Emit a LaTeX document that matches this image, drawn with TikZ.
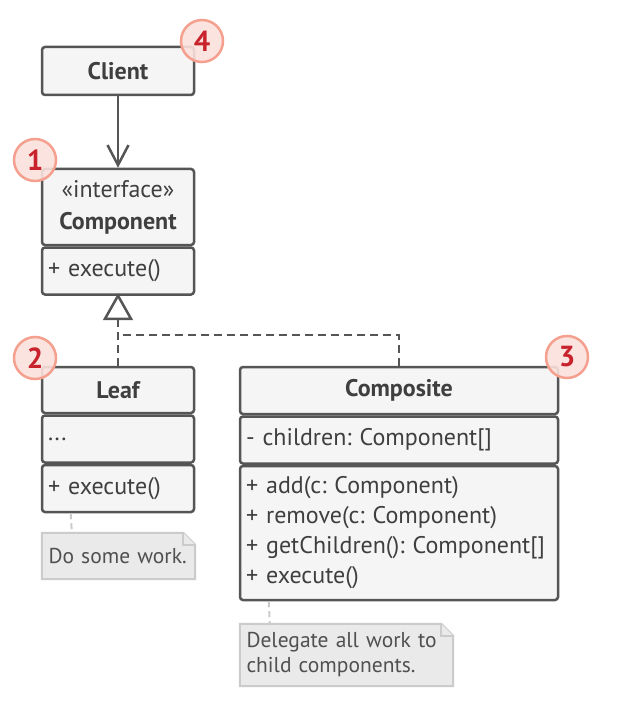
\documentclass[tikz,border=0pt]{standalone}
\usepackage{fontspec}
\setmainfont{PT Sans}
\frenchspacing
\usetikzlibrary{positioning,arrows.meta}
\pgfdeclarelayer{background}
\pgfsetlayers{background,main}
\definecolor{linegray}{HTML}{555555}
\definecolor{boxfill}{HTML}{F5F5F5}
\definecolor{textgray}{HTML}{3F3F3F}
\definecolor{notefill}{HTML}{EAEAEA}
\definecolor{noteline}{HTML}{CBCBCB}
\definecolor{notetext}{HTML}{505050}
\definecolor{badgefill}{HTML}{FBE1DC}
\definecolor{badgeline}{HTML}{F5A08F}
\definecolor{badgetext}{HTML}{C8232C}

\tikzset{
  part/.style={draw=linegray, line width=2.5pt, fill=boxfill, rounded corners=3pt,
    inner sep=0pt, text=textgray, font=\fontsize{24}{30}\selectfont},
  title/.style={part, font=\fontsize{24}{32}\selectfont\bfseries, align=center},
  list/.style={part, align=left, inner xsep=6pt},
  note/.style={inner sep=0pt, inner xsep=6.5pt, align=left, text=notetext,
    font=\fontsize{21.5}{25}\selectfont},
  notebox/.style={draw=noteline, line width=2pt, fill=notefill},
  notelink/.style={draw=noteline, line width=2pt, dash pattern=on 6pt off 4pt},
  badge/.style={circle, minimum size=42pt, inner sep=0pt, draw=badgeline, line width=2.5pt,
    fill=badgefill, fill opacity=0.9, text opacity=1, text=badgetext,
    font=\fontsize{29}{29}\selectfont\bfseries},
  uses/.style={draw=linegray, line width=2.5pt, -{Straight Barb[length=20pt,width=21pt,line width=2.5pt]}},
  realize/.style={draw=linegray, line width=2.5pt, dash pattern=on 8pt off 5pt}
}

\begin{document}
\begin{tikzpicture}[x=1pt, y=-1pt]
\useasboundingbox (0,0) rectangle (625,714);

\node[title, minimum width=152pt, minimum height=48pt] (client) at (118,71) {Client};

\node[title, minimum width=152pt, minimum height=76pt] (comphead) at (118,207)
  {\mdseries«interface»\\Component};
\node[list, text width=140pt, minimum height=47pt, below=0pt of comphead] (compops) {+ execute()};

\node[title, minimum width=152pt, minimum height=46pt] (leafhead) at (118,390) {Leaf};
\node[list, text width=140pt, minimum height=47pt, below=0pt of leafhead] (leaffields) {...};
\node[list, text width=140pt, minimum height=47pt, below=0pt of leaffields] (leafops) {+ execute()};

\node[title, minimum width=318pt, minimum height=47pt] (comphd) at (399,390.5) {Composite};
\node[list, text width=306pt, minimum height=47pt, below=0pt of comphd] (compfields) {- children: Component[]};
\node[list, text width=306pt, minimum height=134pt, below=0pt of compfields] (compmeths)
  {+ add(c: Component)\\+ remove(c: Component)\\+ getChildren(): Component[]\\+ execute()};

% notes
\node[note, text width=140pt, minimum height=46pt] (note1) at (118.5,556) {Do some work.};
\node[note, text width=200pt, minimum height=62pt] (note2) at (346.5,655)
  {Delegate all work to\\child components.};
\begin{pgfonlayer}{background}
\foreach \n in {note1,note2}{
  \draw[notebox] (\n.north west) -- ([xshift=-12pt]\n.north east) -- ([yshift=-12pt]\n.north east)
    -- (\n.south east) -- (\n.south west) -- cycle;
  \draw[notebox] ([xshift=-12pt]\n.north east) |- ([yshift=-12pt]\n.north east);
}
\end{pgfonlayer}

\draw[notelink] ([xshift=30pt]leafops.south west) -- ([xshift=30pt]note1.north west);
\draw[notelink] ([xshift=30pt]compmeths.south west) -- ([xshift=30pt]note2.north west);

% connectors
\draw[uses] (client) -- (comphead);
\coordinate (join) at (118,335);
\draw[realize] (comphd.north) |- (join);
\draw[realize] (leafhead.north) -- ([yshift=-22pt]compops.south);
\draw[draw=linegray, line width=2.5pt, fill=white, line join=miter]
  (compops.south) -- ++(-13,23) -- ++(26,0) -- cycle;

% badges
\node[badge] (b1) at (35,160) {1};
\node[badge] (b2) at (35,358) {2};
\node[badge] (b3) at (567,357) {3};
\node[badge] (b4) at (202,41) {4};
\end{tikzpicture}
\end{document}
